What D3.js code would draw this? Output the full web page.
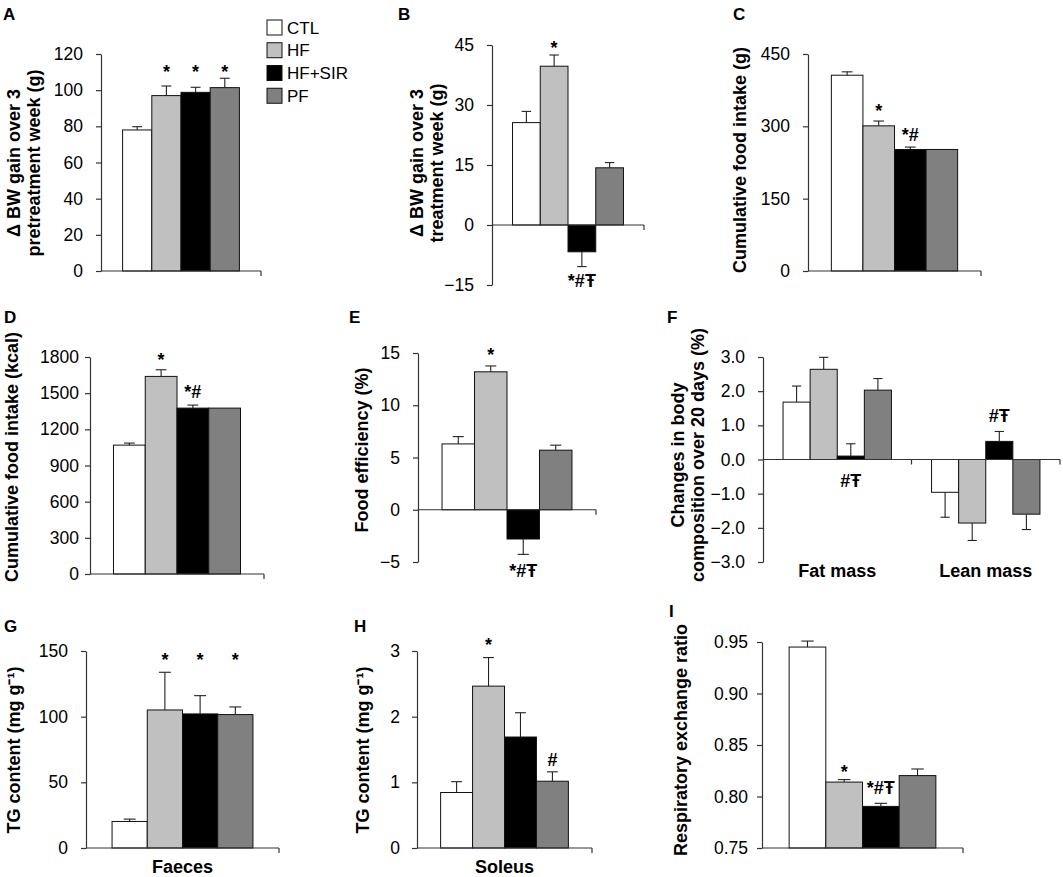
<!DOCTYPE html>
<html>
<head>
<meta charset="utf-8">
<script src="https://cdn.jsdelivr.net/npm/d3@7"></script>
<style>
  html, body { margin: 0; padding: 0; background: #fff; }
  svg { display: block; font-family: "Liberation Sans", Arial, Helvetica, sans-serif; }
</style>
</head>
<body>
<svg id="chart" width="1063" height="877"></svg>
<script>
// ---------------- DATA ----------------
const series = ["CTL", "HF", "HF+SIR", "PF"];
const seriesColors = ["#ffffff", "#c0c0c0", "#000000", "#808080"];

// A: BW gain over 3 pretreatment week (g)
const aCategories = [""];
const aMeans = [[78, 97.0, 98.8, 101.4]];
const aErrors = [[1.8, 5.3, 2.8, 5.2]];
const aTicks = [0, 20, 40, 60, 80, 100, 120];
const aNotes = [["", "HF", "*", 112.8], ["", "HF+SIR", "*", 112.8], ["", "PF", "*", 112.8]];

// B: BW gain over 3 treatment week (g)
const bCategories = [""];
const bMeans = [[25.6, 39.7, -6.7, 14.3]];
const bErrors = [[2.8, 2.8, 3.7, 1.3]];
const bTicks = [-15, 0, 15, 30, 45];
const bNotes = [["", "HF", "*", 45.5], ["", "HF+SIR", "*#Ŧ", -13.8]];

// C: Cumulative food intake (g)
const cCategories = [""];
const cMeans = [[406, 301, 252, 252]];
const cErrors = [[7, 10, 5, null]];
const cTicks = [0, 150, 300, 450];
const cNotes = [["", "HF", "*", 342], ["", "HF+SIR", "*#", 282]];

// D: Cumulative food intake (kcal)
const dCategories = [""];
const dMeans = [[1069, 1639, 1376, 1376]];
const dErrors = [[17, 55, 25, null]];
const dTicks = [0, 300, 600, 900, 1200, 1500, 1800];
const dNotes = [["", "HF", "*", 1817], ["", "HF+SIR", "*#", 1512]];

// E: Food efficiency (%)
const eCategories = [""];
const eMeans = [[6.3, 13.2, -2.8, 5.7]];
const eErrors = [[0.7, 0.56, 1.47, 0.48]];
const eTicks = [-5, 0, 5, 10, 15];
const eNotes = [["", "HF", "*", 15.3], ["", "HF+SIR", "*#Ŧ", -5.8]];

// F: Changes in body composition over 20 days (%)
const fCategories = ["Fat mass", "Lean mass"];
const fMeans = [[1.68, 2.64, 0.1, 2.03], [-0.96, -1.86, 0.53, -1.6]];
const fErrors = [[0.47, 0.35, 0.36, 0.34], [0.73, 0.51, 0.29, 0.45]];
const fTicks = [-3, -2, -1, 0, 1, 2, 3];
const fNotes = [["Fat mass", "HF+SIR", "#Ŧ", -0.61], ["Lean mass", "HF+SIR", "#Ŧ", 1.29]];

// G: TG content faeces (mg g-1)
const gCategories = ["Faeces"];
const gMeans = [[20.2, 105.1, 102.1, 101.6]];
const gErrors = [[1.8, 28.7, 13.9, 5.8]];
const gTicks = [0, 50, 100, 150];
const gNotes = [["Faeces", "HF", "*", 147], ["Faeces", "HF+SIR", "*", 147], ["Faeces", "PF", "*", 147]];

// H: TG content soleus (mg g-1)
const hCategories = ["Soleus"];
const hMeans = [[0.845, 2.465, 1.69, 1.017]];
const hErrors = [[0.165, 0.435, 0.37, 0.143]];
const hTicks = [0, 1, 2, 3];
const hNotes = [["Soleus", "HF", "*", 3.17], ["Soleus", "PF", "#", 1.34]];

// I: Respiratory exchange ratio
const iCategories = [""];
const iMeans = [[0.9451, 0.814, 0.7904, 0.8203]];
const iErrors = [[0.0058, 0.0024, 0.003, 0.0064]];
const iTicks = [0.75, 0.80, 0.85, 0.90, 0.95];
const iNotes = [["", "HF", "*", 0.8286], ["", "HF+SIR", "*#Ŧ", 0.8092]];

// ---------------- LAYOUT ----------------
const panels = [
  { letter: "A", lx: 3, ly: 20, x0: 101, x1: 261, yB: 271, yT: 54, domain: [0, 120], ticks: aTicks, fmt: d3.format("d"), pad: 13,
    cats: aCategories, means: aMeans, errs: aErrors, notes: aNotes,
    title: ["Δ BW gain over 3", "pretreatment  week (g)"], tx: [14, 34], ty: 163 },
  { letter: "B", lx: 398, ly: 20, x0: 492, x1: 644, yB: 285, yT: 45, domain: [-15, 45], ticks: bTicks, fmt: d3.format("d"), pad: 13,
    cats: bCategories, means: bMeans, errs: bErrors, notes: bNotes,
    title: ["Δ BW gain over 3", "treatment  week (g)"], tx: [417, 437], ty: 163 },
  { letter: "C", lx: 733, ly: 20, x0: 808, x1: 981, yB: 271, yT: 54, domain: [0, 450], ticks: cTicks, fmt: d3.format("d"), pad: 13,
    cats: cCategories, means: cMeans, errs: cErrors, notes: cNotes,
    title: ["Cumulative food intake (g)"], tx: [740], ty: 160 },
  { letter: "D", lx: 4, ly: 323, x0: 90, x1: 264, yB: 574, yT: 357, domain: [0, 1800], ticks: dTicks, fmt: d3.format("d"), pad: 6,
    cats: dCategories, means: dMeans, errs: dErrors, notes: dNotes,
    title: ["Cumulative food intake (kcal)"], tx: [12], ty: 457 },
  { letter: "E", lx: 349, ly: 323, x0: 418, x1: 596, yB: 562, yT: 353, domain: [-5, 15], ticks: eTicks, fmt: d3.format("d"), pad: 13,
    cats: eCategories, means: eMeans, errs: eErrors, notes: eNotes,
    title: ["Food efficiency (%)"], tx: [362], ty: 450 },
  { letter: "F", lx: 667, ly: 323, x0: 763, x1: 1060, yB: 562, yT: 357, domain: [-3, 3], ticks: fTicks, fmt: d3.format(".1f"), pad: 13,
    cats: fCategories, means: fMeans, errs: fErrors, notes: fNotes, catLabels: true, catY: 577,
    title: ["Changes in body", "composition over 20 days (%)"], tx: [678, 698], ty: 455 },
  { letter: "G", lx: 4, ly: 632, x0: 86, x1: 279, yB: 848, yT: 651, domain: [0, 150], ticks: gTicks, fmt: d3.format("d"), pad: 13,
    cats: gCategories, means: gMeans, errs: gErrors, notes: gNotes, catLabels: true, catY: 873,
    title: ["TG content (mg g⁻¹)"], tx: [14], ty: 750 },
  { letter: "H", lx: 354, ly: 632, x0: 417, x1: 592, yB: 848, yT: 651, domain: [0, 3], ticks: hTicks, fmt: d3.format("d"), pad: 12,
    cats: hCategories, means: hMeans, errs: hErrors, notes: hNotes, catLabels: true, catY: 873,
    title: ["TG content (mg g⁻¹)"], tx: [363], ty: 750 },
  { letter: "I", lx: 669, ly: 617, x0: 762, x1: 963, yB: 848, yT: 642, domain: [0.75, 0.95], ticks: iTicks, fmt: d3.format(".2f"), pad: 9,
    cats: iCategories, means: iMeans, errs: iErrors, notes: iNotes,
    title: ["Respiratory exchange ratio"], tx: [681], ty: 740 }
];

const svg = d3.select("#chart");
const AXIS = "#333";

function drawPanel(p) {
  const g = svg.append("g");
  const y = d3.scaleLinear().domain(p.domain).range([p.yB, p.yT]);
  const xc = d3.scaleBand().domain(p.cats.map((c, i) => i)).range([p.x0, p.x1])
    .paddingInner(0.27).paddingOuter(0.135);
  const xs = d3.scaleBand().domain(series).range([0, xc.bandwidth()]);
  const baseVal = p.domain[0] >= 0 ? p.domain[0] : 0;
  const base = y(baseVal);

  const rows = [];
  p.cats.forEach((c, i) => series.forEach((s, j) => {
    rows.push({ ci: i, s: s, j: j, v: p.means[i][j], e: p.errs[i][j] });
  }));

  // bars
  g.selectAll("rect.bar").data(rows).join("rect")
    .attr("class", "bar")
    .attr("x", d => xc(d.ci) + xs(d.s))
    .attr("y", d => Math.min(y(d.v), base))
    .attr("width", xs.bandwidth())
    .attr("height", d => Math.abs(y(d.v) - base))
    .attr("fill", d => seriesColors[d.j])
    .attr("stroke", "#111")
    .attr("stroke-width", 1);

  // error bars
  const cap = xs.bandwidth() * 0.17;
  const eb = g.selectAll("g.err").data(rows.filter(d => d.e != null)).join("g").attr("class", "err");
  const cx = d => xc(d.ci) + xs(d.s) + xs.bandwidth() / 2;
  const endv = d => d.v >= baseVal ? d.v + d.e : d.v - d.e;
  eb.append("line")
    .attr("x1", cx).attr("x2", cx)
    .attr("y1", d => y(d.v)).attr("y2", d => y(endv(d)))
    .attr("stroke", "#222").attr("stroke-width", 1.1);
  eb.append("line")
    .attr("x1", d => cx(d) - cap).attr("x2", d => cx(d) + cap)
    .attr("y1", d => y(endv(d))).attr("y2", d => y(endv(d)))
    .attr("stroke", "#222").attr("stroke-width", 1.1);

  // y axis
  const ya = g.append("g").attr("transform", `translate(${p.x0},0)`)
    .call(d3.axisLeft(y).tickValues(p.ticks).tickFormat(p.fmt).tickSize(5).tickSizeOuter(0).tickPadding(p.pad));
  ya.select(".domain").attr("stroke", AXIS).attr("stroke-width", 1.2);
  ya.selectAll(".tick line").attr("stroke", AXIS).attr("stroke-width", 1.2);
  ya.selectAll(".tick text").attr("font-size", 17.5).attr("fill", "#000")
    .attr("font-family", "Liberation Sans, Arial, sans-serif");

  // x axis line with ticks at category boundaries
  g.append("line").attr("x1", p.x0).attr("x2", p.x1).attr("y1", base).attr("y2", base)
    .attr("stroke", AXIS).attr("stroke-width", 1.2);
  const bounds = d3.range(p.cats.length + 1).map(i => p.x0 + i * xc.step());
  g.selectAll("line.xt").data(bounds.slice(1)).join("line").attr("class", "xt")
    .attr("x1", d => d).attr("x2", d => d).attr("y1", base).attr("y2", base + 5)
    .attr("stroke", AXIS).attr("stroke-width", 1.2);

  // category labels
  if (p.catLabels) {
    g.selectAll("text.cat").data(p.cats).join("text").attr("class", "cat")
      .attr("x", (d, i) => xc(i) + xc.bandwidth() / 2)
      .attr("y", p.catY)
      .attr("text-anchor", "middle")
      .attr("font-size", 18).attr("font-weight", "bold")
      .text(d => d);
  }

  // significance notes
  g.selectAll("text.note").data(p.notes).join("text").attr("class", "note")
    .attr("x", d => xc(p.cats.indexOf(d[0])) + xs(d[1]) + xs.bandwidth() / 2)
    .attr("y", d => y(d[3]))
    .attr("dy", d => d[2] === "*" ? "0.6em" : "0.36em")
    .attr("text-anchor", "middle")
    .attr("font-size", 18).attr("font-weight", "bold")
    .text(d => d[2]);

  // axis title
  p.title.forEach((t, k) => {
    g.append("text")
      .attr("transform", `translate(${p.tx[k]},${p.ty}) rotate(-90)`)
      .attr("text-anchor", "middle")
      .attr("dy", "0.36em")
      .attr("font-size", 18).attr("font-weight", "bold")
      .text(t);
  });

  // panel letter
  g.append("text").attr("x", p.lx).attr("y", p.ly)
    .attr("font-size", 17).attr("font-weight", "bold").text(p.letter);
}

panels.forEach(drawPanel);

// legend
const legend = svg.append("g").attr("transform", "translate(267,20)");
const ly = d3.scaleBand().domain(series).range([0, 91]);
legend.selectAll("rect").data(series).join("rect")
  .attr("x", 0).attr("y", d => ly(d)).attr("width", 15).attr("height", 15)
  .attr("fill", (d, i) => seriesColors[i]).attr("stroke", "#111").attr("stroke-width", 1);
legend.selectAll("text").data(series).join("text")
  .attr("x", 20).attr("y", d => ly(d) + 7.5).attr("dy", "0.36em")
  .attr("font-size", 17).text(d => d);
</script>
</body>
</html>
